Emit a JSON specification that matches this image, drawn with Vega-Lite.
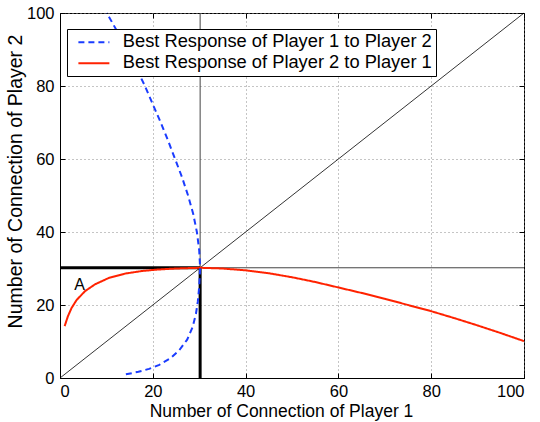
{
  "$schema": "https://vega.github.io/schema/vega-lite/v6.json",
  "width": 464,
  "height": 365,
  "autosize": "none",
  "padding": {"left": 60, "top": 13, "right": 16, "bottom": 44},
  "background": "white",
  "config": {
    "font": "Liberation Sans",
    "view": {"stroke": "black", "strokeWidth": 1},
    "axis": {
      "domainColor": "black",
      "domainWidth": 1,
      "tickColor": "black",
      "tickSize": -5,
      "labelFontSize": 16.5,
      "labelColor": "black",
      "labelPadding": 11,
      "titleFontWeight": "normal",
      "titleColor": "black",
      "gridColor": "#8a8a8a",
      "gridDash": [1, 3],
      "gridWidth": 1
    }
  },
  "datasets": {
    "curves": [
      {"series": "Best Response of Player 2 to Player 1", "i": 1, "x": 1.0, "y": 14.2},
      {"series": "Best Response of Player 2 to Player 1", "i": 2, "x": 1.7, "y": 16.9},
      {"series": "Best Response of Player 2 to Player 1", "i": 3, "x": 2.5, "y": 19.2},
      {"series": "Best Response of Player 2 to Player 1", "i": 4, "x": 3.6, "y": 21.4},
      {"series": "Best Response of Player 2 to Player 1", "i": 5, "x": 5.4, "y": 23.8},
      {"series": "Best Response of Player 2 to Player 1", "i": 6, "x": 7.6, "y": 25.7},
      {"series": "Best Response of Player 2 to Player 1", "i": 7, "x": 10.5, "y": 27.4},
      {"series": "Best Response of Player 2 to Player 1", "i": 8, "x": 14, "y": 28.6},
      {"series": "Best Response of Player 2 to Player 1", "i": 9, "x": 17.6, "y": 29.3},
      {"series": "Best Response of Player 2 to Player 1", "i": 10, "x": 20.9, "y": 29.7},
      {"series": "Best Response of Player 2 to Player 1", "i": 11, "x": 25, "y": 30.0},
      {"series": "Best Response of Player 2 to Player 1", "i": 12, "x": 30.2, "y": 30.2},
      {"series": "Best Response of Player 2 to Player 1", "i": 13, "x": 35, "y": 30.0},
      {"series": "Best Response of Player 2 to Player 1", "i": 14, "x": 40, "y": 29.5},
      {"series": "Best Response of Player 2 to Player 1", "i": 15, "x": 45, "y": 28.7},
      {"series": "Best Response of Player 2 to Player 1", "i": 16, "x": 50, "y": 27.6},
      {"series": "Best Response of Player 2 to Player 1", "i": 17, "x": 55, "y": 26.3},
      {"series": "Best Response of Player 2 to Player 1", "i": 18, "x": 60, "y": 24.8},
      {"series": "Best Response of Player 2 to Player 1", "i": 19, "x": 65, "y": 23.3},
      {"series": "Best Response of Player 2 to Player 1", "i": 20, "x": 70, "y": 21.7},
      {"series": "Best Response of Player 2 to Player 1", "i": 21, "x": 75, "y": 20.0},
      {"series": "Best Response of Player 2 to Player 1", "i": 22, "x": 80, "y": 18.3},
      {"series": "Best Response of Player 2 to Player 1", "i": 23, "x": 85, "y": 16.4},
      {"series": "Best Response of Player 2 to Player 1", "i": 24, "x": 90, "y": 14.4},
      {"series": "Best Response of Player 2 to Player 1", "i": 25, "x": 95, "y": 12.3},
      {"series": "Best Response of Player 2 to Player 1", "i": 26, "x": 100, "y": 10.1},
      {"series": "Best Response of Player 1 to Player 2", "i": 1, "x": 14.2, "y": 1.0},
      {"series": "Best Response of Player 1 to Player 2", "i": 2, "x": 16.9, "y": 1.7},
      {"series": "Best Response of Player 1 to Player 2", "i": 3, "x": 19.2, "y": 2.5},
      {"series": "Best Response of Player 1 to Player 2", "i": 4, "x": 21.4, "y": 3.6},
      {"series": "Best Response of Player 1 to Player 2", "i": 5, "x": 23.8, "y": 5.4},
      {"series": "Best Response of Player 1 to Player 2", "i": 6, "x": 25.7, "y": 7.6},
      {"series": "Best Response of Player 1 to Player 2", "i": 7, "x": 27.4, "y": 10.5},
      {"series": "Best Response of Player 1 to Player 2", "i": 8, "x": 28.6, "y": 14},
      {"series": "Best Response of Player 1 to Player 2", "i": 9, "x": 29.3, "y": 17.6},
      {"series": "Best Response of Player 1 to Player 2", "i": 10, "x": 29.7, "y": 20.9},
      {"series": "Best Response of Player 1 to Player 2", "i": 11, "x": 30.0, "y": 25},
      {"series": "Best Response of Player 1 to Player 2", "i": 12, "x": 30.2, "y": 30.2},
      {"series": "Best Response of Player 1 to Player 2", "i": 13, "x": 30.0, "y": 35},
      {"series": "Best Response of Player 1 to Player 2", "i": 14, "x": 29.5, "y": 40},
      {"series": "Best Response of Player 1 to Player 2", "i": 15, "x": 28.7, "y": 45},
      {"series": "Best Response of Player 1 to Player 2", "i": 16, "x": 27.6, "y": 50},
      {"series": "Best Response of Player 1 to Player 2", "i": 17, "x": 26.3, "y": 55},
      {"series": "Best Response of Player 1 to Player 2", "i": 18, "x": 24.8, "y": 60},
      {"series": "Best Response of Player 1 to Player 2", "i": 19, "x": 23.3, "y": 65},
      {"series": "Best Response of Player 1 to Player 2", "i": 20, "x": 21.7, "y": 70},
      {"series": "Best Response of Player 1 to Player 2", "i": 21, "x": 20.0, "y": 75},
      {"series": "Best Response of Player 1 to Player 2", "i": 22, "x": 18.3, "y": 80},
      {"series": "Best Response of Player 1 to Player 2", "i": 23, "x": 16.4, "y": 85},
      {"series": "Best Response of Player 1 to Player 2", "i": 24, "x": 14.4, "y": 90},
      {"series": "Best Response of Player 1 to Player 2", "i": 25, "x": 12.3, "y": 95},
      {"series": "Best Response of Player 1 to Player 2", "i": 26, "x": 10.1, "y": 100}
    ]
  },
  "resolve": {"axis": {"x": "independent", "y": "independent"}},
  "layer": [
    {
      "data": {"values": [{"x": 0, "y": 0, "x2": 100, "y2": 100}]},
      "mark": {"type": "rule", "color": "black", "strokeWidth": 0.8},
      "encoding": {
        "x": {"field": "x", "type": "quantitative",
              "scale": {"domain": [0, 100], "nice": false},
              "axis": {"values": [0, 20, 40, 60, 80, 100], "grid": true, "labelPadding": 10,
                       "title": "Number of Connection of Player 1", "titleFontSize": 17.5,
                       "titleX": 221, "titleY": 38, "titleBaseline": "alphabetic"}},
        "y": {"field": "y", "type": "quantitative",
              "scale": {"domain": [0, 100], "nice": false},
              "axis": {"values": [0, 20, 40, 60, 80, 100], "grid": true,
                       "title": "Number of Connection of Player 2", "titleFontSize": 19.5,
                       "titleX": -39, "titleY": 168, "titleBaseline": "alphabetic"}},
        "x2": {"field": "x2"},
        "y2": {"field": "y2"}
      }
    },
    {
      "data": {"values": [
        {"x": 30.2, "y": 30.2, "x2": 30.2, "y2": 100},
        {"x": 30.2, "y": 30.2, "x2": 100, "y2": 30.2}
      ]},
      "mark": {"type": "rule", "color": "#444", "strokeWidth": 1},
      "encoding": {
        "x": {"field": "x", "type": "quantitative",
              "axis": {"orient": "top", "values": [0, 20, 40, 60, 80, 100], "labels": false, "grid": false, "title": null, "domain": false}},
        "y": {"field": "y", "type": "quantitative",
              "axis": {"orient": "right", "values": [0, 20, 40, 60, 80, 100], "labels": false, "grid": false, "title": null, "domain": false}},
        "x2": {"field": "x2"},
        "y2": {"field": "y2"}
      }
    },
    {
      "data": {"values": [
        {"x": 0, "y": 30.2, "x2": 30.2, "y2": 30.2},
        {"x": 30.2, "y": 0, "x2": 30.2, "y2": 30.2}
      ]},
      "mark": {"type": "rule", "color": "black", "strokeWidth": 3},
      "encoding": {
        "x": {"field": "x", "type": "quantitative", "axis": null},
        "y": {"field": "y", "type": "quantitative", "axis": null},
        "x2": {"field": "x2"},
        "y2": {"field": "y2"}
      }
    },
    {
      "data": {"name": "curves"},
      "mark": {"type": "line", "strokeWidth": 2},
      "encoding": {
        "x": {"field": "x", "type": "quantitative", "axis": null},
        "y": {"field": "y", "type": "quantitative", "axis": null},
        "order": {"field": "i", "type": "quantitative"},
        "color": {
          "field": "series", "type": "nominal",
          "scale": {
            "domain": ["Best Response of Player 1 to Player 2", "Best Response of Player 2 to Player 1"],
            "range": ["#1a3cff", "#ff2200"]
          },
          "legend": {
            "orient": "none", "legendX": 7, "legendY": 16, "title": null,
            "fillColor": "white", "strokeColor": "black", "padding": 4,
            "symbolType": "M-0.226,0H3.774", "symbolSize": 240, "symbolStrokeWidth": 2,
            "symbolFillColor": "transparent",
            "labelFontSize": 18.3, "labelColor": "black", "labelOffset": 33.5,
            "rowPadding": 2, "labelLimit": 500
          }
        },
        "strokeDash": {
          "field": "series", "type": "nominal",
          "scale": {
            "domain": ["Best Response of Player 1 to Player 2", "Best Response of Player 2 to Player 1"],
            "range": [[6, 4], [1, 0]]
          },
          "legend": {
            "orient": "none", "legendX": 7, "legendY": 16, "title": null,
            "fillColor": "white", "strokeColor": "black", "padding": 4,
            "symbolType": "M-0.226,0H3.774", "symbolSize": 240, "symbolStrokeWidth": 2,
            "symbolFillColor": "transparent",
            "labelFontSize": 18.3, "labelColor": "black", "labelOffset": 33.5,
            "rowPadding": 2, "labelLimit": 500
          }
        }
      }
    },
    {
      "data": {"values": [{"x": 4.2, "y": 25.4, "label": "A"}]},
      "mark": {"type": "text", "fontSize": 16, "color": "black", "align": "center", "baseline": "middle"},
      "encoding": {
        "x": {"field": "x", "type": "quantitative", "axis": null},
        "y": {"field": "y", "type": "quantitative", "axis": null},
        "text": {"field": "label"}
      }
    }
  ]
}
